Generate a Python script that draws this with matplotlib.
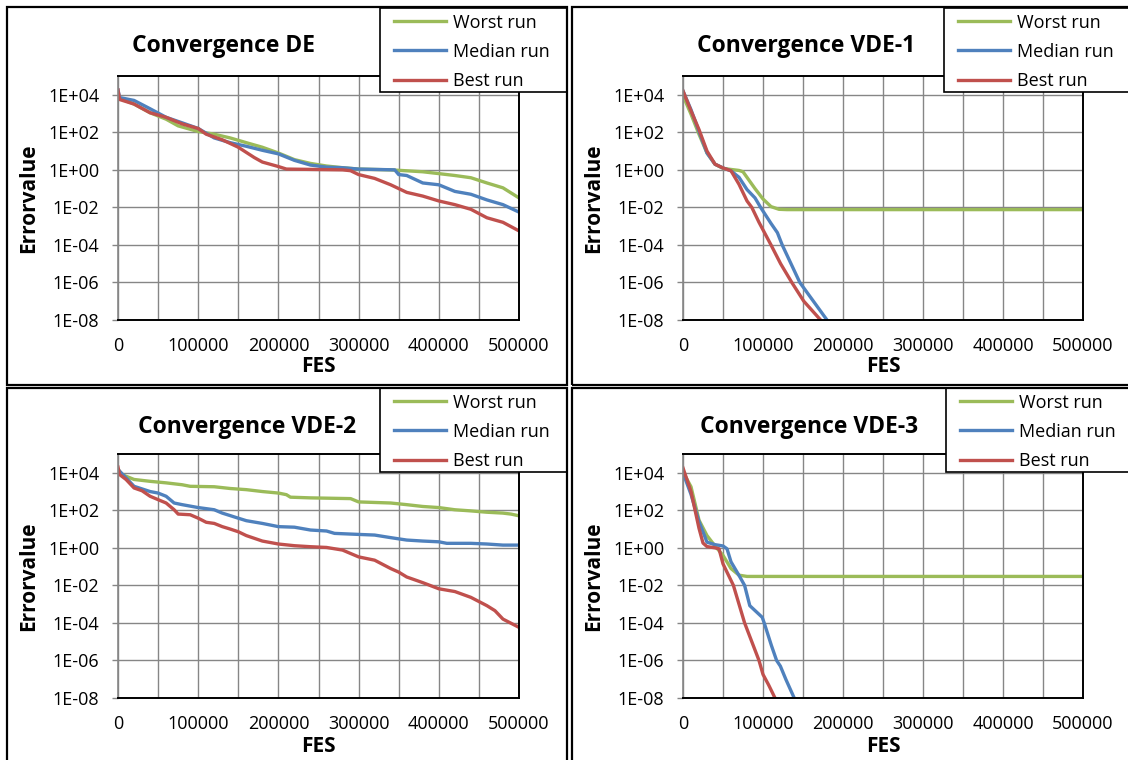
import matplotlib
matplotlib.use("Agg")
import matplotlib.pyplot as plt
from matplotlib.patches import Rectangle
from matplotlib.ticker import NullLocator

plt.rcParams['font.family'] = ['Open Sans', 'DejaVu Sans']

# ---------------- data ----------------
series_names = ["Worst run", "Median run", "Best run"]
titles = ["Convergence DE", "Convergence VDE-1", "Convergence VDE-2", "Convergence VDE-3"]
x_label = "FES"
y_label = "Errorvalue"
y_tick_values = [1e-8, 1e-6, 1e-4, 1e-2, 1e0, 1e2, 1e4]
y_tick_labels = ["1E-08", "1E-06", "1E-04", "1E-02", "1E+00", "1E+02", "1E+04"]
x_tick_values = [0, 100000, 200000, 300000, 400000, 500000]
x_tick_labels = ["0", "100000", "200000", "300000", "400000", "500000"]

# Convergence DE
de_worst_x = [0, 20000, 40000, 60000, 75000, 100000, 120000, 140000, 160000, 180000, 200000, 220000,
              240000, 260000, 280000, 300000, 340000, 360000, 380000, 400000, 420000, 440000, 460000,
              480000, 500000]
de_worst_y = [7.1e3, 3.2e3, 1.1e3, 500, 220, 110, 79, 50, 28, 16, 7.9, 3.5, 2.2, 1.6, 1.3, 1.1, 1.0,
              0.89, 0.79, 0.63, 0.5, 0.38, 0.2, 0.11, 0.032]
de_median_x = [0, 2000, 20000, 40000, 60000, 80000, 100000, 120000, 140000, 160000, 180000, 200000,
               220000, 240000, 260000, 280000, 300000, 345000, 350000, 360000, 380000, 400000, 420000,
               440000, 460000, 480000, 500000]
de_median_y = [1.8e4, 7.1e3, 5.0e3, 1.8e3, 630, 320, 160, 50, 28, 18, 11, 7.1, 3.2, 1.8, 1.4, 1.3,
               1.1, 1.0, 0.56, 0.5, 0.2, 0.16, 0.071, 0.05, 0.025, 0.014, 0.0056]
de_best_x = [0, 2000, 20000, 40000, 60000, 80000, 100000, 110000, 130000, 150000, 170000, 180000,
             200000, 210000, 280000, 290000, 300000, 320000, 340000, 360000, 380000, 400000, 420000,
             440000, 460000, 480000, 500000]
de_best_y = [1.8e4, 5.6e3, 3.2e3, 1.1e3, 630, 280, 160, 79, 40, 16, 4.5, 2.6, 1.5, 1.1, 1.0, 0.9,
             0.56, 0.35, 0.16, 0.063, 0.04, 0.022, 0.014, 0.0079, 0.0028, 0.0016, 0.00056]

# Convergence VDE-1
v1_worst_x = [0, 10000, 20000, 30000, 40000, 50000, 60000, 70000, 75000, 90000, 100000, 110000,
              120000, 130000, 500000]
v1_worst_y = [8.9e3, 930, 79, 7.9, 2.0, 1.2, 1.05, 0.93, 0.79, 0.1, 0.028, 0.011, 0.0079, 0.0076,
              0.0076]
v1_median_x = [0, 10000, 20000, 30000, 40000, 50000, 60000, 70000, 80000, 90000, 97000, 110000,
               118000, 124000, 135000, 146000, 163000, 180000, 183000]
v1_median_y = [1.6e4, 1.6e3, 112, 7.9, 2.0, 1.26, 0.89, 0.4, 0.089, 0.032, 0.01, 1.4e-3, 4.5e-4,
               1e-4, 1e-5, 1e-6, 1e-7, 1e-8, 6.3e-9]
v1_best_x = [0, 10000, 20000, 30000, 40000, 50000, 60000, 70000, 80000, 86000, 95000, 110000,
             122000, 136000, 151000, 172000, 175000]
v1_best_y = [1.6e4, 1.4e3, 140, 10, 2.0, 1.26, 0.89, 0.17, 0.022, 0.01, 1.6e-3, 1e-4, 1e-5, 1e-6,
             1e-7, 1e-8, 5e-9]

# Convergence VDE-2
v2_worst_x = [0, 5000, 20000, 40000, 60000, 80000, 90000, 120000, 140000, 160000, 180000, 200000,
              210000, 215000, 240000, 290000, 300000, 340000, 360000, 380000, 400000, 420000, 440000,
              460000, 480000, 490000, 500000]
v2_worst_y = [1.5e4, 8.0e3, 4.4e3, 3.5e3, 2.9e3, 2.3e3, 1.9e3, 1.8e3, 1.45e3, 1.26e3, 1.0e3, 830,
              680, 500, 460, 420, 280, 245, 200, 160, 140, 107, 93, 79, 71, 63, 51]
v2_median_x = [0, 10000, 20000, 40000, 50000, 60000, 70000, 80000, 100000, 120000, 130000, 140000,
               150000, 160000, 180000, 200000, 220000, 240000, 260000, 270000, 300000, 320000,
               340000, 360000, 380000, 400000, 410000, 440000, 460000, 480000, 500000]
v2_median_y = [1.5e4, 5.4e3, 1.9e3, 1.0e3, 830, 560, 245, 200, 140, 107, 71, 52, 38, 28, 20, 13.5,
               12.6, 8.9, 7.9, 5.9, 5.2, 4.8, 3.5, 2.6, 2.3, 2.1, 1.74, 1.74, 1.6, 1.4, 1.4]
v2_best_x = [0, 2000, 10000, 20000, 30000, 40000, 50000, 60000, 70000, 75000, 90000, 100000, 110000,
             120000, 130000, 140000, 150000, 160000, 180000, 200000, 220000, 240000, 260000, 280000,
             290000, 300000, 320000, 340000, 350000, 360000, 380000, 400000, 420000, 440000, 460000,
             470000, 480000, 500000]
v2_best_y = [2.0e4, 8.0e3, 4.4e3, 1.55e3, 1.1e3, 560, 370, 245, 107, 63, 58, 38, 23, 20, 13.5, 10,
             7.2, 4.5, 2.3, 1.6, 1.3, 1.15, 1.05, 0.76, 0.5, 0.33, 0.22, 0.079, 0.051, 0.028, 0.014,
             0.0066, 0.0047, 0.0023, 8.3e-4, 4.5e-4, 1.6e-4, 5.8e-5]

# Convergence VDE-3
v3_worst_x = [0, 10000, 20000, 30000, 40000, 50000, 60000, 70000, 80000, 500000]
v3_worst_y = [1.1e4, 1.8e3, 30, 4.5, 1.26, 0.4, 0.079, 0.035, 0.03, 0.03]
v3_median_x = [0, 10000, 20000, 30000, 40000, 50000, 55000, 60000, 70000, 77000, 83500, 99000,
               101500, 110500, 117000, 121700, 128500, 139000, 141000]
v3_median_y = [1.0e4, 710, 25, 2.0, 1.48, 1.26, 0.89, 0.18, 0.034, 0.01, 8.3e-4, 2.0e-4, 1.0e-4,
               6.3e-6, 1.0e-6, 5.0e-7, 1.0e-7, 1.0e-8, 5.0e-9]
v3_best_x = [0, 10000, 20000, 25000, 30000, 40000, 45000, 50000, 63000, 77000, 95000, 100000,
             107000, 115000, 117000]
v3_best_y = [1.8e4, 1.0e3, 11, 1.8, 1.17, 1.0, 0.89, 0.14, 0.01, 1e-4, 1e-6, 1.8e-7, 5e-8, 1e-8,
             5e-9]

panels = [
    [(de_worst_x, de_worst_y), (de_median_x, de_median_y), (de_best_x, de_best_y)],
    [(v1_worst_x, v1_worst_y), (v1_median_x, v1_median_y), (v1_best_x, v1_best_y)],
    [(v2_worst_x, v2_worst_y), (v2_median_x, v2_median_y), (v2_best_x, v2_best_y)],
    [(v3_worst_x, v3_worst_y), (v3_median_x, v3_median_y), (v3_best_x, v3_best_y)],
]

# ---------------- style / layout ----------------
colors = ["#9BBB59", "#4F81BD", "#C0504D"]
GRID = "#868686"
W, H = 1128, 760
fig = plt.figure(figsize=(W / 100, H / 100), dpi=100)
fig.patch.set_facecolor("white")


def fx(px):
    return px / W


def fy(py):
    return 1 - py / H


plot_left = [118, 683, 118, 683]
plot_right = [519, 1083, 519, 1083]
plot_top = [76, 76, 454, 454]
plot_bottom = [320, 320, 698, 698]
title_pos = [(224, 46), (806, 46), (247, 427), (809, 427)]
ylab_x = [29, 594, 29, 594]
xlab_y = [367, 367, 747, 747]
panel_boxes = [(7, 7, 567, 385), (572, 7, 1140, 385), (7, 388, 567, 770), (572, 388, 1140, 770)]
legend_boxes = [(380, 8, 567, 92), (944, 8, 1140, 92), (380, 388, 567, 472), (946, 388, 1140, 472)]
legend_anchor = [(394, 13.5), (958, 13.5), (394, 393.5), (960, 393.5)]

for i in range(4):
    l, r, t, b = plot_left[i], plot_right[i], plot_top[i], plot_bottom[i]
    ax = fig.add_axes([fx(l), fy(b), fx(r - l), (b - t) / H])
    handles = []
    for (xs, ys), c, name in zip(panels[i], colors, series_names):
        h, = ax.plot(xs, ys, color=c, lw=2.4, label=name, solid_joinstyle="round")
        handles.append(h)
    ax.set_yscale("log")
    ax.set_ylim(1e-8, 1e5)
    ax.set_xlim(0, 500000)
    ax.set_yticks(y_tick_values)
    ax.set_yticklabels(y_tick_labels)
    ax.yaxis.set_minor_locator(NullLocator())
    ax.set_xticks(x_tick_values)
    ax.set_xticklabels(x_tick_labels)
    ax.set_xticks(list(range(50000, 500000, 100000)), minor=True)
    ax.grid(axis="x", which="both", color=GRID, lw=1.0)
    ax.grid(axis="y", which="major", color=GRID, lw=1.0)
    ax.set_axisbelow(True)
    for s in ["top", "right", "bottom"]:
        ax.spines[s].set_color("black")
        ax.spines[s].set_linewidth(1.4)
    ax.spines["left"].set_color(GRID)
    ax.spines["left"].set_linewidth(1.2)
    ax.tick_params(axis="y", which="major", length=4.5, width=1.0, color=GRID,
                   labelsize=13, pad=9, labelcolor="black")
    ax.tick_params(axis="x", which="both", length=0, labelsize=13, pad=12)
    ax.set_xlabel(x_label, fontsize=15, fontweight="bold", va="center")
    ax.xaxis.set_label_coords(0.5, (b - xlab_y[i]) / (b - t))
    ax.set_ylabel(y_label, fontsize=15, fontweight="bold", va="center")
    ax.yaxis.set_label_coords((ylab_x[i] - l) / (r - l), 0.5)

    tx, ty = title_pos[i]
    fig.text(fx(tx), fy(ty), titles[i], fontsize=16.5, fontweight="bold",
             ha="center", va="center")

    # legend box
    lx0, ly0, lx1, ly1 = legend_boxes[i]
    fig.add_artist(Rectangle((fx(lx0), fy(ly1)), fx(lx1 - lx0), (ly1 - ly0) / H,
                             transform=fig.transFigure, facecolor="white",
                             edgecolor="black", lw=1.2, zorder=3))
    ax_, ay_ = legend_anchor[i]
    leg = fig.legend(handles=handles, labels=series_names, loc="upper left",
                     bbox_to_anchor=(fx(ax_), fy(ay_)), frameon=False, borderpad=0,
                     borderaxespad=0, handlelength=2.9, handletextpad=0.35,
                     labelspacing=0.62, fontsize=13)
    leg.set_zorder(4)

    # panel border
    px0, py0, px1, py1 = panel_boxes[i]
    fig.add_artist(Rectangle((fx(px0), fy(py1)), fx(px1 - px0), (py1 - py0) / H,
                             transform=fig.transFigure, facecolor="none",
                             edgecolor="black", lw=1.6, zorder=6))

fig.savefig("out.png", dpi=100)
